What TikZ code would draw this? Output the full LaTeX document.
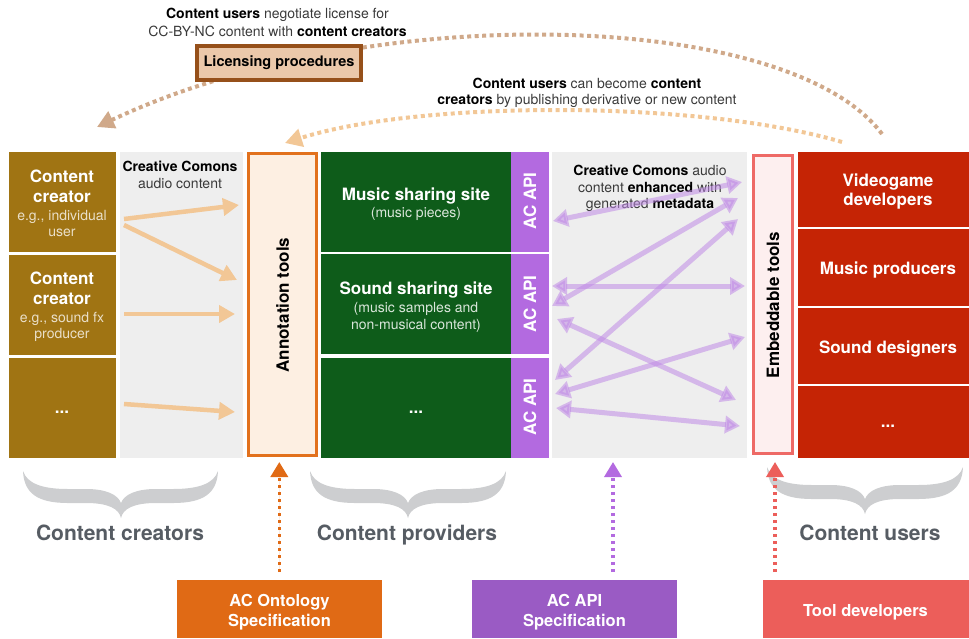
\documentclass[tikz,border=0pt]{standalone}
\usepackage{fontspec}
\setmainfont{TeX Gyre Heros}
\usetikzlibrary{arrows.meta}
\definecolor{cbrown}{HTML}{A07413}
\definecolor{cgreen}{HTML}{0E5C1A}
\definecolor{cpurp}{HTML}{B36AE0}
\definecolor{cred}{HTML}{C52405}
\definecolor{cgrey}{HTML}{EEEEEE}
\definecolor{annfill}{HTML}{FDEFE2}
\definecolor{annborder}{HTML}{E2711D}
\definecolor{embfill}{HTML}{FDEFEF}
\definecolor{embborder}{HTML}{EE6A66}
\definecolor{lorange}{HTML}{F2C796}
\definecolor{tanc}{HTML}{D0A98A}
\definecolor{licfill}{HTML}{EBC8AA}
\definecolor{licborder}{HTML}{96501A}
\definecolor{braceg}{HTML}{CDCED0}
\definecolor{labelg}{HTML}{565C63}
\definecolor{ontof}{HTML}{E06A15}
\definecolor{apif}{HTML}{9A5BC4}
\definecolor{toolf}{HTML}{EC5E5A}
\definecolor{txtg}{HTML}{3A3A3A}
\definecolor{parrow}{HTML}{C08AE6}
\definecolor{subbrown}{HTML}{EADFC8}
\definecolor{subgreen}{HTML}{D9E6DA}
\newcommand\mybracefill[4]{%
 \fill[braceg] (#1,#3) .. controls ({#1+1},{#3+22}) and ({#1+14},{#3+32}) .. ({#1+45},{#3+32})
   -- ({#4-35},{#3+32}) .. controls ({#4-12},{#3+32}) and ({#4-2},{#3+38}) .. (#4,{#3+47})
   .. controls ({#4+2},{#3+38}) and ({#4+12},{#3+32}) .. ({#4+35},{#3+32})
   -- ({#2-45},{#3+32}) .. controls ({#2-14},{#3+32}) and ({#2-1},{#3+22}) .. (#2,#3)
   .. controls ({#2-4},{#3+12}) and ({#2-18},{#3+18}) .. ({#2-45},{#3+18})
   -- ({#4+35},{#3+18}) .. controls ({#4+14},{#3+18}) and ({#4+3},{#3+24}) .. (#4,{#3+32})
   .. controls ({#4-3},{#3+24}) and ({#4-14},{#3+18}) .. ({#4-35},{#3+18})
   -- ({#1+45},{#3+18}) .. controls ({#1+18},{#3+18}) and ({#1+4},{#3+12}) .. (#1,#3) -- cycle;}
\tikzset{
 every node/.style={inner sep=0pt,outer sep=0pt},
 boxnw/.style={anchor=north west},
 greycol/.style={boxnw, fill=cgrey},
 brownbox/.style={boxnw, fill=cbrown, minimum width=107pt, minimum height=100pt},
 greenbox/.style={boxnw, fill=cgreen, minimum width=190pt, minimum height=100pt},
 purpbox/.style={boxnw, fill=cpurp, minimum width=38pt, minimum height=100pt},
 redbox/.style={boxnw, fill=cred, minimum width=171pt},
 ttl/.style={anchor=base, text=white, font=\fontsize{17}{20}\selectfont\bfseries},
 subb/.style={anchor=base, text=subbrown, font=\fontsize{14}{17}\selectfont},
 subg/.style={anchor=base, text=subgreen, font=\fontsize{14}{17}\selectfont},
 desc/.style={anchor=base, text=txtg, font=\fontsize{14}{17}\selectfont},
 rot/.style={rotate=90, font=\fontsize{17}{20}\selectfont\bfseries},
 grp/.style={anchor=base, text=labelg, font=\fontsize{21}{24}\selectfont\bfseries},
 specbox/.style={boxnw, minimum width=205pt, minimum height=58pt},
 spec/.style={anchor=base, text=white, font=\fontsize{16.5}{20}\selectfont\bfseries},
 orarrow/.style={draw=lorange, line width=4.5pt, -{Triangle[length=16pt,width=17pt]}},
 pdouble/.style={draw=parrow, opacity=.55, line width=5pt, {Triangle[length=15pt,width=17pt]}-{Triangle[length=15pt,width=17pt]}},
 updot/.style={line width=3.5pt, dash pattern=on 3.5pt off 3.5pt, -{Triangle[length=15pt,width=17pt]}},
 bigdot/.style={line width=4pt, dash pattern=on 4pt off 3.5pt, -{Triangle[length=17pt,width=18pt]}},
}
\begin{document}
\begin{tikzpicture}[x=1pt,y=-1pt]
\useasboundingbox (0,0) rectangle (969,638);
% columns
\node[greycol, minimum width=123pt, minimum height=306pt] (g1) at (120,152) {};
\node[greycol, minimum width=195pt, minimum height=306pt] (g2) at (552,152) {};
% content creators
\node[brownbox] (cc1) at (9,152) {};
\node[brownbox] (cc2) at (9,255) {};
\node[brownbox] (cc3) at (9,358) {};
\node[ttl] (cc1a) at (62,182) {Content};
\node[ttl] (cc1b) at (62,202.5) {creator};
\node[subb] (cc1c) at (62,220) {e.g., individual};
\node[subb] (cc1d) at (62,236) {user};
\node[ttl] (cc2a) at (62,284) {Content};
\node[ttl] (cc2b) at (62,304.5) {creator};
\node[subb] (cc2c) at (62,322.5) {e.g., sound fx};
\node[subb] (cc2d) at (62,338.5) {producer};
\node[ttl] (cc3a) at (62,413) {...};
% grey text 1
\node[desc, text=black] (g1a) at (180,171.5) {\bfseries Creative Comons};
\node[desc] (g1b) at (180,188) {audio content};
% annotation tools
\node[draw=annborder, fill=annfill, line width=3pt, minimum width=68pt, minimum height=301.5pt] (ann) at (282.2,304.5) {};
\node[rot] (annt) at (282.5,305) {Annotation tools};
% content providers
\node[greenbox] (cp1) at (321,152) {};
\node[greenbox] (cp2) at (321,254) {};
\node[greenbox, minimum height=100pt] (cp3) at (321,358) {};
\node[purpbox] (api1) at (511,152) {};
\node[purpbox] (api2) at (511,254) {};
\node[purpbox] (api3) at (511,358) {};
\node[ttl] (cp1a) at (416,200) {Music sharing site};
\node[subg] (cp1b) at (416,217) {(music pieces)};
\node[ttl] (cp2a) at (416,294) {Sound sharing site};
\node[subg] (cp2b) at (416,312) {(music samples and};
\node[subg] (cp2c) at (416,329) {non-musical content)};
\node[ttl] (cp3a) at (416,413) {...};
\node[rot, text=white] (api1t) at (530,201) {AC API};
\node[rot, text=white] (api2t) at (530,304) {AC API};
\node[rot, text=white] (api3t) at (530,407) {AC API};
% grey text 2
\node[desc] (g2a) at (650,175) {{\color{black}\bfseries Creative Comons} audio};
\node[desc] (g2b) at (650,192) {content {\color{black}\bfseries enhanced} with};
\node[desc] (g2c) at (650,208) {generated {\color{black}\bfseries metadata}};
% embeddable tools
\node[draw=embborder, fill=embfill, line width=3pt, minimum width=39.3pt, minimum height=298pt] (emb) at (772.8,304.5) {};
\node[rot] (embt) at (773,305) {Embeddable tools};
% content users
\node[redbox, minimum height=75pt] (cu1) at (798,152) {};
\node[redbox, minimum height=77pt] (cu2) at (798,229) {};
\node[redbox, minimum height=76pt] (cu3) at (798,308) {};
\node[redbox, minimum height=72pt] (cu4) at (798,386) {};
\node[ttl] (cu1a) at (888,186) {Videogame};
\node[ttl] (cu1b) at (888,205.5) {developers};
\node[ttl] (cu2a) at (888,274) {Music producers};
\node[ttl] (cu3a) at (888,353) {Sound designers};
\node[ttl] (cu4a) at (888,427.5) {...};
% left arrows
\coordinate (la1s) at (124,219); \coordinate (la1e) at (239,205);
\coordinate (la2s) at (124,225); \coordinate (la2e) at (237,280);
\coordinate (la3s) at (124,314); \coordinate (la3e) at (235,314);
\coordinate (la4s) at (124,404); \coordinate (la4e) at (235,412);
\draw[orarrow] (la1s) -- (la1e);
\draw[orarrow] (la2s) -- (la2e);
\draw[orarrow] (la3s) -- (la3e);
\draw[orarrow] (la4s) -- (la4e);
% purple arrows
\coordinate (p1s) at (553,221); \coordinate (p1e) at (742,182);
\coordinate (p2s) at (552,306); \coordinate (p2e) at (738,198);
\coordinate (p3s) at (552,286); \coordinate (p3e) at (745,286);
\coordinate (p4s) at (555,380); \coordinate (p4e) at (738,219);
\coordinate (p5s) at (557,319); \coordinate (p5e) at (736,400);
\coordinate (p6s) at (555,394); \coordinate (p6e) at (745,337);
\coordinate (p7s) at (556,408); \coordinate (p7e) at (740,426);
\foreach \i in {1,...,7} {\draw[pdouble] (p\i s) -- (p\i e);}
% top curves
\coordinate (licS) at (882,134); \coordinate (licE) at (97,127);
\draw[bigdot, draw=tanc] (licS) .. controls (790,10) and (370,-2) .. (licE);
\coordinate (ocS) at (842,142); \coordinate (ocE) at (285,143);
\draw[bigdot, draw=lorange] (ocS) .. controls (700,100) and (420,100) .. (ocE);
\node[draw=licborder, fill=licfill, line width=4pt, minimum width=164pt, minimum height=34pt,
  font=\fontsize{14.5}{17}\selectfont\bfseries] (lic) at (279,63) {Licensing procedures};
\node[desc] (t1a) at (277.5,18) {{\color{black}\bfseries Content users} negotiate license for};
\node[desc] (t1b) at (277.5,36) {CC-BY-NC content with {\color{black}\bfseries content creators}};
\node[desc] (t2a) at (587,88) {{\color{black}\bfseries Content users} can become {\color{black}\bfseries content}};
\node[desc] (t2b) at (587,104) {{\color{black}\bfseries creators} by publishing derivative or new content};
% braces
\mybracefill{23}{218}{471}{121}
\mybracefill{310}{506}{471}{408}
\mybracefill{767}{963}{467}{865}
\node[grp] (gl1) at (120,540) {Content creators};
\node[grp] (gl2) at (407,540) {Content providers};
\node[grp] (gl3) at (870,540) {Content users};
% spec boxes
\node[specbox, fill=ontof] (onto) at (177,580) {};
\node[specbox, fill=apif] (apis) at (472,580) {};
\node[specbox, fill=toolf, minimum width=206pt] (tool) at (763,580) {};
\node[spec] (ontoa) at (279.5,606.5) {AC Ontology};
\node[spec] (ontob) at (279.5,626) {Specification};
\node[spec] (apisa) at (574.5,606.5) {AC API};
\node[spec] (apisb) at (574.5,626) {Specification};
\node[spec] (toola) at (865.5,616) {Tool developers};
% up arrows
\coordinate (ontoTip) at (279.3,462);
\coordinate (apiTip) at (613,462);
\coordinate (toolTip) at (775,462);
\draw[updot, draw=ontof, fill=ontof] (onto.north -| ontoTip) ++(0,-8) -- (ontoTip);
\draw[updot, draw=cpurp] (apis.north -| apiTip) ++(0,-8) -- (apiTip);
\draw[updot, draw=toolf] (tool.north -| toolTip) ++(0,-8) -- (toolTip);
\end{tikzpicture}
\end{document}
